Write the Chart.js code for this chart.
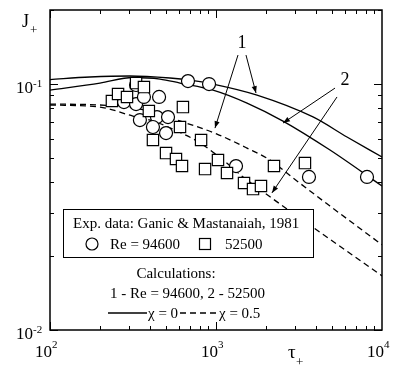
<!DOCTYPE html>
<html>
<head>
<meta charset="utf-8">
<script src="https://cdn.jsdelivr.net/npm/chart.js@4"></script>
<style>
 html,body{margin:0;padding:0;background:#fff;}
 canvas{display:block;}
</style>
</head>
<body>
<canvas id="chart" width="393" height="369"></canvas>
<script>
// exp. data, Ganic & Mastanaiah 1981
const circleTau=[279,330,330,368,454,348,441,514,417,500,678,908,1320,3631,8122];
const circleJ=[0.0845,0.0991,0.0829,0.0886,0.0886,0.0714,0.0734,0.0734,0.0669,0.0632,0.1028,0.1,0.0464,0.0419,0.0419];
const squareTau=[236,257,291,330,368,394,417,500,574,607,624,632,813,859,1028,1165,1475,1671,1866,2235,3435];
const squareJ=[0.0853,0.0911,0.0886,0.1009,0.0972,0.0777,0.0592,0.0524,0.0496,0.0669,0.0464,0.0806,0.0592,0.0451,0.0491,0.0435,0.0396,0.0374,0.0385,0.0464,0.0477];

// calculations: 1 - Re=94600, 2 - 52500; a - chi=0, b - chi=0.5
const calcTau1a=[100,174,303,528,697,960,1767,3840,6152,10000];
const calcJ1a=[0.1043,0.1068,0.1078,0.1058,0.1038,0.1,0.0902,0.0735,0.0609,0.0505];
const calcTau2a=[100,200,316,460,607,960,1538,2533,4861,10000];
const calcJ2a=[0.0945,0.1009,0.1063,0.1048,0.1009,0.0945,0.0837,0.0707,0.0539,0.0385];
const calcTau1b=[100,200,348,632,1014,1538,2115,2912,4861,10000];
const calcJ1b=[0.0829,0.0822,0.0791,0.0701,0.0626,0.0549,0.0491,0.0415,0.0319,0.0222];
const calcTau2b=[100,200,316,400,566,801,1102,1455,2115,10000];
const calcJ2b=[0.0822,0.0806,0.0741,0.0714,0.0650,0.0576,0.0491,0.0419,0.0348,0.0166];

// tick labels
const xTicks=[100,1000,10000];
const xTickExp=['2','3','4'];
const yTicks=[0.01,0.1];
const yTickExp=['-2','-1'];

const FONT='"Liberation Serif", "Times New Roman", serif';
const pts=(xs,ys)=>xs.map((x,i)=>({x:x,y:ys[i]}));

function line(xs,ys,dash){
 return {data:pts(xs,ys),showLine:true,borderColor:'#000',borderWidth:1.3,borderDash:dash||[],
  pointRadius:0,fill:false,cubicInterpolationMode:'monotone'};
}

// arrows from labels "1" and "2" (data coords)
const arrows=[
 {from:[1357,0.1312],to:[986,0.0662]},
 {from:[1516,0.1312],to:[1742,0.0919]},
 {from:[5212,0.0963],to:[2533,0.0694]},
 {from:[5358,0.0886],to:[2173,0.0361]}
];
const curveLabels=[{t:'1',at:[1435,0.1468]},{t:'2',at:[5984,0.1038]}];

function arrow(ctx,x1,y1,x2,y2){
 ctx.beginPath();ctx.moveTo(x1,y1);ctx.lineTo(x2,y2);ctx.stroke();
 let a=Math.atan2(y2-y1,x2-x1),L=7,W=2.6;
 ctx.beginPath();
 ctx.moveTo(x2,y2);
 ctx.lineTo(x2-L*Math.cos(a)+W*Math.sin(a),y2-L*Math.sin(a)-W*Math.cos(a));
 ctx.lineTo(x2-L*Math.cos(a)-W*Math.sin(a),y2-L*Math.sin(a)+W*Math.cos(a));
 ctx.closePath();ctx.fill();
}

const decor={
 id:'decor',
 afterDraw(c){
  let ctx=c.ctx,a=c.chartArea,xs=c.scales.x,ys=c.scales.y;
  ctx.save();
  ctx.strokeStyle='#000';ctx.fillStyle='#000';

  // ticks, inward, all four sides
  ctx.lineWidth=1;
  ctx.beginPath();
  [100,1000].forEach(d=>{
   for(let k=1;k<=9;k++){
    let px=Math.round(xs.getPixelForValue(d*k))+0.5,len=k==1?8:4;
    ctx.moveTo(px,a.bottom);ctx.lineTo(px,a.bottom-len);
    ctx.moveTo(px,a.top);ctx.lineTo(px,a.top+len);
   }
  });
  [0.01,0.1].forEach(d=>{
   for(let k=1;k<=9;k++){
    if(d*k>0.2) continue;
    let py=Math.round(ys.getPixelForValue(d*k))+0.5,len=k==1?8:4;
    ctx.moveTo(a.left,py);ctx.lineTo(a.left+len,py);
    ctx.moveTo(a.right,py);ctx.lineTo(a.right-len,py);
   }
  });
  ctx.stroke();

  // frame
  ctx.lineWidth=1.5;
  ctx.strokeRect(a.left,a.top,a.right-a.left,a.bottom-a.top);

  // tick labels
  xTicks.forEach((v,i)=>{
   let px=xs.getPixelForValue(v)+2;
   ctx.font='17px '+FONT;ctx.textAlign='right';ctx.fillText('10',px,357);
   ctx.font='11px '+FONT;ctx.textAlign='left';ctx.fillText(xTickExp[i],px,348);
  });
  yTicks.forEach((v,i)=>{
   let py=ys.getPixelForValue(v);
   ctx.font='17px '+FONT;ctx.textAlign='right';ctx.fillText('10',33,py+9);
   ctx.font='11px '+FONT;ctx.textAlign='left';ctx.fillText(yTickExp[i],33,py+3);
  });

  // axis titles
  ctx.textAlign='left';
  ctx.font='18px '+FONT;ctx.fillText('J',22,27);
  ctx.font='13px '+FONT;ctx.fillText('+',30,34);
  ctx.font='19px '+FONT;ctx.fillText('τ',288,358);
  ctx.font='13px '+FONT;ctx.fillText('+',296,366);

  // curve labels and arrows
  ctx.lineWidth=1;
  arrows.forEach(r=>arrow(ctx,xs.getPixelForValue(r.from[0]),ys.getPixelForValue(r.from[1]),
   xs.getPixelForValue(r.to[0]),ys.getPixelForValue(r.to[1])));
  ctx.font='18px '+FONT;ctx.textAlign='center';ctx.textBaseline='middle';
  curveLabels.forEach(l=>ctx.fillText(l.t,xs.getPixelForValue(l.at[0]),ys.getPixelForValue(l.at[1])));
  ctx.textBaseline='alphabetic';

  // legend box
  ctx.fillStyle='#fff';ctx.fillRect(63.5,209.5,250,48);
  ctx.lineWidth=1;ctx.strokeRect(63.5,209.5,250,48);
  ctx.fillStyle='#000';
  ctx.font='15px '+FONT;ctx.textAlign='left';
  ctx.fillText('Exp. data: Ganic & Mastanaiah, 1981',73,228);
  ctx.lineWidth=1.2;
  ctx.beginPath();ctx.arc(92,244,6,0,Math.PI*2);ctx.stroke();
  ctx.fillText('Re = 94600',110,249);
  ctx.strokeRect(199.5,238.5,11,11);
  ctx.fillText('52500',225,249);
  ctx.textAlign='center';
  ctx.fillText('Calculations:',176,278);
  ctx.textAlign='left';
  ctx.fillText('1 - Re = 94600, 2 - 52500',110,298);
  ctx.lineWidth=1.3;
  ctx.beginPath();ctx.moveTo(108,313);ctx.lineTo(147,313);ctx.stroke();
  ctx.fillText('χ = 0',148,318);
  ctx.setLineDash([6,4]);
  ctx.beginPath();ctx.moveTo(180,313);ctx.lineTo(218,313);ctx.stroke();
  ctx.setLineDash([]);
  ctx.fillText('χ = 0.5',219,318);
  ctx.restore();
 }
};

new Chart(document.getElementById('chart'),{
 type:'scatter',
 data:{datasets:[
  {data:pts(squareTau,squareJ),pointStyle:'rect',pointRadius:8,borderColor:'#000',backgroundColor:'#fff',borderWidth:1.2},
  {data:pts(circleTau,circleJ),pointStyle:'circle',pointRadius:6.5,borderColor:'#000',backgroundColor:'#fff',borderWidth:1.2},
  line(calcTau1a,calcJ1a),
  line(calcTau2a,calcJ2a),
  line(calcTau1b,calcJ1b,[6,4]),
  line(calcTau2b,calcJ2b,[6,4])
 ]},
 options:{
  responsive:false,animation:false,devicePixelRatio:1,events:[],
  layout:{padding:{left:50,right:11,top:10,bottom:39}},
  plugins:{legend:{display:false},tooltip:{enabled:false}},
  scales:{
   x:{type:'logarithmic',min:100,max:10000,display:false},
   y:{type:'logarithmic',min:0.01,max:0.2,display:false}
  }
 },
 plugins:[decor]
});
</script>
</body>
</html>
